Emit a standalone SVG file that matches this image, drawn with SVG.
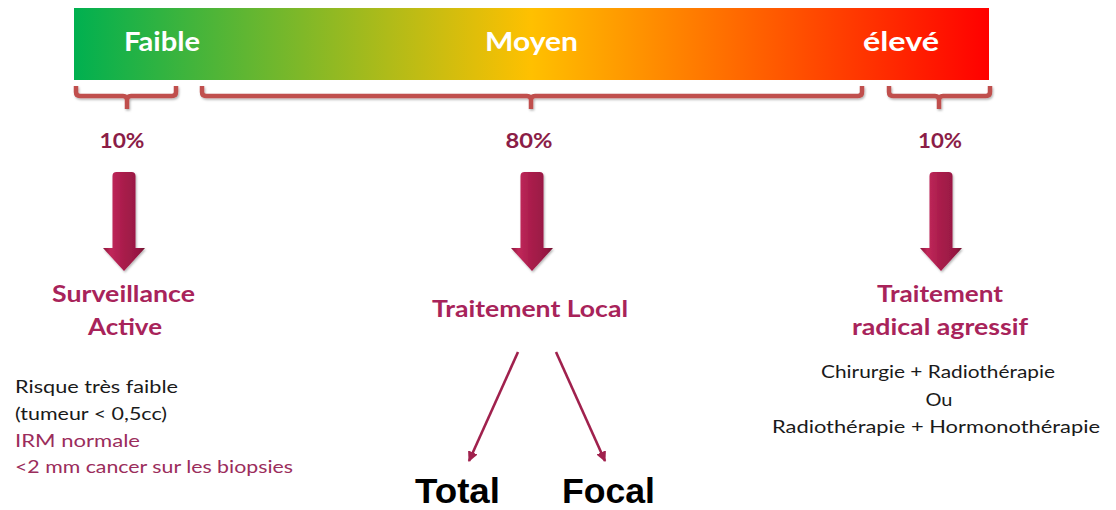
<svg xmlns="http://www.w3.org/2000/svg" width="1116" height="510" viewBox="0 0 1116 510">
<defs>
<linearGradient id="barGrad" x1="0" y1="0" x2="1" y2="0">
<stop offset="0" stop-color="#00b050"/>
<stop offset="0.5" stop-color="#ffc000"/>
<stop offset="1" stop-color="#ff0000"/>
</linearGradient>
<linearGradient id="arrGrad" x1="0" y1="0" x2="1" y2="0">
<stop offset="0" stop-color="#8a1338"/>
<stop offset="0.18" stop-color="#c0285a"/>
<stop offset="0.5" stop-color="#a81c4b"/>
<stop offset="0.85" stop-color="#961842"/>
<stop offset="1" stop-color="#6e0e2c"/>
</linearGradient>
<marker id="thinHead" viewBox="0 0 10 10" refX="9" refY="5" markerWidth="4" markerHeight="4" orient="auto" markerUnits="strokeWidth">
<path d="M0,0 L10,5 L0,10 Z" fill="#a0214d"/>
</marker>
<filter id="sh" x="-20%" y="-20%" width="140%" height="140%">
<feDropShadow dx="1" dy="1.5" stdDeviation="1" flood-color="#000" flood-opacity="0.3"/>
</filter>
</defs>
<style>
.bar{font-family:Lato,"Liberation Sans",sans-serif;font-weight:bold;font-size:26px;fill:#fff}
.pct{font-family:Lato,"Liberation Sans",sans-serif;font-weight:bold;font-size:21px;fill:#8b1d47;text-anchor:middle}
.lbl{font-family:Lato,"Liberation Sans",sans-serif;font-weight:bold;font-size:23px;fill:#a8235a;text-anchor:middle}
.sm{font-family:Lato,"Liberation Sans",sans-serif;font-size:18px;fill:#1a1a1a}
.smr{font-family:Lato,"Liberation Sans",sans-serif;font-size:18px;fill:#9b2d5c}
.big{font-family:"Liberation Sans",Arial,sans-serif;font-weight:bold;font-size:35px;fill:#000;text-anchor:middle}
.brace{fill:none;stroke:#c0504d;stroke-width:4.5;stroke-linejoin:round;stroke-linecap:butt}
.block{fill:url(#arrGrad)}
.thin{fill:none;stroke:#a0214d;stroke-width:2.6;marker-end:url(#thinHead)}
</style>
<rect width="1116" height="510" fill="#fff"/>

<g id="scale">
<rect x="74" y="8" width="915" height="72" fill="url(#barGrad)"/>
<text class="bar" x="124" y="51" textLength="76" lengthAdjust="spacingAndGlyphs">Faible</text>
<text class="bar" x="485" y="51" textLength="93" lengthAdjust="spacingAndGlyphs">Moyen</text>
<text class="bar" x="863" y="51" textLength="76" lengthAdjust="spacingAndGlyphs">élevé</text>
</g>

<g id="braces" filter="url(#sh)">
<path class="brace" d="M76,86 V92 Q76,96 80,96 H123 Q127,96 127,100 V109 M127,100 Q127,96 131,96 H172 Q176,96 176,92 V86"/>
<path class="brace" d="M202,86 V92 Q202,96 206,96 H527 Q531,96 531,100 V109 M531,100 Q531,96 535,96 H858 Q862,96 862,92 V86"/>
<path class="brace" d="M889,86 V92 Q889,96 893,96 H935 Q939,96 939,100 V109 M939,100 Q939,96 943,96 H986 Q990,96 990,92 V86"/>
</g>

<g id="pct-low"><text class="pct" x="122" y="148" textLength="45" lengthAdjust="spacingAndGlyphs">10%</text></g>
<g id="pct-mid"><text class="pct" x="529" y="148" textLength="47" lengthAdjust="spacingAndGlyphs">80%</text></g>
<g id="pct-high"><text class="pct" x="940" y="148" textLength="44" lengthAdjust="spacingAndGlyphs">10%</text></g>

<g id="connectors">
<path class="block" filter="url(#sh)" d="M112.5,176 Q112.5,172 116.5,172 H131.5 Q135.5,172 135.5,176 V248 H145 L124,271 L103,248 H112.5 Z"/>
<path class="block" filter="url(#sh)" d="M520.5,176 Q520.5,172 524.5,172 H539.5 Q543.5,172 543.5,176 V248 H553 L532,271 L511,248 H520.5 Z"/>
<path class="block" filter="url(#sh)" d="M929.5,176 Q929.5,172 933.5,172 H948.5 Q952.5,172 952.5,176 V248 H962 L941,271 L920,248 H929.5 Z"/>
<line class="thin" x1="518" y1="352" x2="469" y2="461"/>
<line class="thin" x1="556" y1="352" x2="605" y2="461"/>
</g>

<g id="surveillance">
<text class="lbl" x="123.5" y="302" textLength="143" lengthAdjust="spacingAndGlyphs">Surveillance</text>
<text class="lbl" x="125" y="335" textLength="74" lengthAdjust="spacingAndGlyphs">Active</text>
</g>
<g id="surveillance-details">
<text class="sm" x="15" y="393" textLength="163" lengthAdjust="spacingAndGlyphs">Risque très faible</text>
<text class="sm" x="15" y="420" textLength="152" lengthAdjust="spacingAndGlyphs">(tumeur &lt; 0,5cc)</text>
<text class="smr" x="15" y="447" textLength="125" lengthAdjust="spacingAndGlyphs">IRM normale</text>
<text class="smr" x="15" y="473" textLength="278" lengthAdjust="spacingAndGlyphs">&lt;2 mm cancer sur les biopsies</text>
</g>

<g id="traitement-local">
<text class="lbl" x="530" y="317" textLength="196" lengthAdjust="spacingAndGlyphs">Traitement  Local</text>
</g>
<g id="total"><text class="big" x="457.5" y="503" textLength="85" lengthAdjust="spacingAndGlyphs">Total</text></g>
<g id="focal"><text class="big" x="608.5" y="503" textLength="93" lengthAdjust="spacingAndGlyphs">Focal</text></g>

<g id="traitement-radical">
<text class="lbl" x="940" y="302" textLength="126" lengthAdjust="spacingAndGlyphs">Traitement</text>
<text class="lbl" x="940" y="335" textLength="176" lengthAdjust="spacingAndGlyphs">radical agressif</text>
</g>
<g id="radical-details">
<text class="sm" x="938" y="378" text-anchor="middle" textLength="234" lengthAdjust="spacingAndGlyphs">Chirurgie + Radiothérapie</text>
<text class="sm" x="939" y="406" text-anchor="middle" textLength="27" lengthAdjust="spacingAndGlyphs">Ou</text>
<text class="sm" x="936" y="433" text-anchor="middle" textLength="328" lengthAdjust="spacingAndGlyphs">Radiothérapie + Hormonothérapie</text>
</g>
</svg>
